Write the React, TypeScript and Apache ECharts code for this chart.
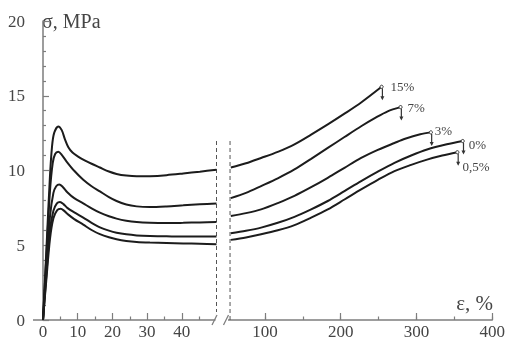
import React, { useEffect, useRef } from "react";
import * as echarts from "echarts";

// Curve labels (pre-strain), top to bottom
const curveLabels = ["15%", "7%", "3%", "0%", "0,5%"];

// Left part of the broken axis: ε 0..50 %, σ in MPa
const leftA = [[0, 0], [1, 4.8], [2, 9.6], [2.6, 11.6], [3.2, 12.5], [4.4, 12.95], [5.4, 12.7], [6.3, 12.1], [7.3, 11.55], [8.5, 11.2], [10, 10.95], [12, 10.68], [14, 10.45], [16.4, 10.2], [19, 9.93], [21.2, 9.77], [24, 9.66], [27, 9.61], [30.8, 9.62], [35.6, 9.69], [40.4, 9.8], [45.2, 9.92], [50, 10.05]];
const leftB = [[0, 0], [1, 4.4], [2, 8.6], [2.8, 10.5], [3.5, 11.1], [4.4, 11.25], [5.4, 11.05], [6.8, 10.6], [9, 9.98], [11.6, 9.38], [14, 8.95], [16.4, 8.6], [19, 8.22], [21.2, 7.96], [24, 7.72], [27, 7.6], [30.8, 7.56], [35.6, 7.6], [40.4, 7.67], [45.2, 7.74], [50, 7.8]];
const leftC = [[0, 0], [1, 3.6], [2, 6.9], [3, 8.5], [3.8, 8.95], [4.7, 9.07], [5.7, 8.9], [7, 8.55], [9, 8.15], [11.6, 7.8], [14, 7.47], [16.4, 7.18], [19, 6.94], [21.2, 6.78], [24, 6.64], [27, 6.55], [30.8, 6.5], [35.6, 6.48], [40.4, 6.5], [45.2, 6.53], [50, 6.56]];
const leftD = [[0, 0], [1, 3.1], [2, 6.0], [3, 7.3], [4, 7.8], [4.9, 7.89], [5.9, 7.75], [7, 7.5], [9, 7.2], [11.6, 6.85], [14, 6.5], [16.4, 6.2], [19, 5.98], [21.2, 5.84], [24, 5.73], [27, 5.66], [30.8, 5.62], [35.6, 5.6], [40.4, 5.58], [50, 5.58]];
const leftE = [[0, 0], [1, 2.8], [2, 5.4], [3, 6.8], [4.1, 7.35], [5.1, 7.44], [6.1, 7.3], [7.3, 7.05], [9, 6.75], [11.6, 6.38], [14, 6.02], [16.4, 5.74], [19, 5.53], [21.2, 5.4], [24, 5.29], [27, 5.22], [30.8, 5.18], [35.6, 5.15], [40.4, 5.12], [45.2, 5.1], [50, 5.07]];

// Right part of the broken axis: ε 50..400 %
const rightA = [[55, 10.2], [75, 10.48], [95, 10.84], [117, 11.25], [139, 11.75], [161, 12.4], [183, 13.08], [205, 13.8], [227, 14.55], [254, 15.6]];
const rightB = [[55, 8.15], [75, 8.5], [95, 8.96], [117, 9.48], [139, 10.07], [161, 10.78], [183, 11.51], [205, 12.24], [227, 12.96], [245, 13.5], [262, 13.96], [279, 14.24]];
const rightC = [[55, 6.96], [75, 7.15], [95, 7.4], [117, 7.82], [139, 8.3], [161, 8.88], [183, 9.51], [205, 10.18], [227, 10.84], [249, 11.38], [271, 11.84], [285, 12.12], [305, 12.42], [319, 12.55]];
const rightD = [[55, 5.8], [75, 5.97], [95, 6.18], [117, 6.5], [139, 6.9], [161, 7.4], [183, 7.96], [205, 8.62], [227, 9.29], [249, 9.92], [271, 10.51], [293, 11.0], [314, 11.4], [340, 11.75], [361, 11.97]];
const rightE = [[55, 5.36], [75, 5.52], [95, 5.73], [117, 6.0], [139, 6.35], [161, 6.85], [183, 7.4], [205, 8.06], [227, 8.73], [249, 9.37], [271, 9.96], [293, 10.38], [314, 10.73], [334, 11.0], [354, 11.22]];

const leftCurves = [leftA, leftB, leftC, leftD, leftE];
const rightCurves = [rightA, rightB, rightC, rightD, rightE];

const xTicksLeft = [0, 10, 20, 30, 40];
const xTicksRight = [100, 200, 300, 400];
const yTicks = [0, 5, 10, 15, 20];

// Axis break guide lines (ε on each side, σ top)
const breakLeft = [[50, 0], [50, 12]];
const breakRight = [[54, 0], [54, 12]];

// label offsets for end markers (style)
const labelOffsets = [[9, 0], [7, 0], [4, -2], [6, 3], [5, 14]];

const FONT = '"Liberation Serif", "DejaVu Serif", serif';
const AXIS = "#7d7d7d";
const TEXT = "#454545";
const LINE = "#1c1c1c";

export default function App() {
  const ref = useRef<HTMLDivElement>(null);
  useEffect(() => {
    document.body.style.margin = "0";
    const chart = echarts.init(ref.current!, undefined, { renderer: "svg" });
    const axisLine = { show: true, lineStyle: { color: AXIS, width: 1.5 } };
    const tickStyle = { color: AXIS, width: 1.2 };
    const labelStyle = { color: TEXT, fontFamily: FONT, fontSize: 17 };

    const series: any[] = [];
    leftCurves.forEach((c, i) => {
      series.push({
        type: "line", xAxisIndex: 0, yAxisIndex: 0, data: c, showSymbol: false, symbol: "none",
        smooth: 0.3, lineStyle: { color: LINE, width: 2 }, z: 3, name: "L" + i,
      });
    });
    rightCurves.forEach((c, i) => {
      series.push({
        type: "line", xAxisIndex: 1, yAxisIndex: 1, data: c, showSymbol: false, symbol: "none",
        smooth: 0.3, lineStyle: { color: LINE, width: 2 }, z: 3, name: "R" + i,
      });
    });
    series.push({
      type: "line", xAxisIndex: 0, yAxisIndex: 0, data: breakLeft, symbol: "none",
      lineStyle: { color: "#555", width: 1, type: [4, 3] }, z: 2,
    });
    series.push({
      type: "line", xAxisIndex: 1, yAxisIndex: 1, data: breakRight, symbol: "none",
      lineStyle: { color: "#555", width: 1, type: [4, 3] }, z: 2,
    });
    series.push({
      type: "custom", xAxisIndex: 1, yAxisIndex: 1, clip: false, z: 4,
      data: rightCurves.map((c) => c[c.length - 1]),
      renderItem: (params: any, api: any) => {
        const p = api.coord([api.value(0), api.value(1)]);
        const i = params.dataIndex;
        const [dx, dy] = labelOffsets[i];
        const x = p[0], y = p[1];
        return {
          type: "group",
          children: [
            { type: "circle", shape: { cx: x, cy: y, r: 1.6 }, style: { fill: "#fff", stroke: "#333", lineWidth: 1 } },
            { type: "line", shape: { x1: x + 0.8, y1: y + 1.6, x2: x + 0.8, y2: y + 12 }, style: { stroke: "#333", lineWidth: 1.2 } },
            { type: "polygon", shape: { points: [[x - 1.2, y + 9.5], [x + 2.8, y + 9.5], [x + 0.8, y + 13.5]] }, style: { fill: "#333" } },
            { type: "text", style: { text: curveLabels[i], x: x + dx, y: y + dy, fill: TEXT, font: `13px ${FONT}`, align: "left", verticalAlign: "middle" } },
          ],
        };
      },
    });

    chart.setOption({
      animation: false,
      grid: [
        { left: 43, top: 21, width: 173.5, height: 300 },
        { left: 227, top: 21, width: 266, height: 300 },
      ],
      xAxis: [
        {
          gridIndex: 0, type: "value", min: 0, max: 50, interval: 10, position: "bottom",
          axisLine, axisTick: { inside: true, length: 7, lineStyle: tickStyle },
          minorTick: { show: true, splitNumber: 2, length: 3.5, lineStyle: tickStyle },
          splitLine: { show: false },
          axisLabel: { ...labelStyle, margin: 3, formatter: (v: number) => (xTicksLeft.includes(v) ? String(v) : "") },
        },
        {
          gridIndex: 1, type: "value", min: 50, max: 400, interval: 50, position: "bottom",
          axisLine, axisTick: { inside: true, length: 3.5, lineStyle: tickStyle },
          splitLine: { show: false },
          axisLabel: { ...labelStyle, margin: 3, formatter: (v: number) => (xTicksRight.includes(v) ? String(v) : "") },
        },
        {
          gridIndex: 1, type: "value", min: 50, max: 400, interval: 50, position: "bottom",
          axisLine: { show: false },
          axisTick: { inside: true, length: 7, lineStyle: tickStyle, customValues: xTicksRight },
          splitLine: { show: false }, axisLabel: { show: false },
        },
      ],
      yAxis: [
        {
          gridIndex: 0, type: "value", min: 0, max: 20, interval: 5, offset: 10,
          axisLine, axisTick: { inside: true, length: 6, lineStyle: tickStyle },
          minorTick: { show: true, splitNumber: 5, length: 3, lineStyle: tickStyle },
          splitLine: { show: false },
          axisLabel: { ...labelStyle, margin: 8, formatter: (v: number) => (yTicks.includes(v) ? String(v) : "") },
        },
        { gridIndex: 1, type: "value", min: 0, max: 20, show: false },
      ],
      series,
    });

    const p0 = chart.convertToPixel({ gridIndex: 0 }, [0, 0]) as number[];
    const p50a = chart.convertToPixel({ gridIndex: 0 }, [50, 0]) as number[];
    const p50b = chart.convertToPixel({ gridIndex: 1 }, [50, 0]) as number[];
    const slash = (cx: number, cy: number) => ({
      type: "line", shape: { x1: cx - 2.5, y1: cy + 5, x2: cx + 2.5, y2: cy - 5 },
      style: { stroke: AXIS, lineWidth: 1.3 },
    });
    chart.setOption({
      graphic: [
        { type: "line", shape: { x1: p0[0] - 10, y1: p0[1], x2: p0[0], y2: p0[1] }, style: { stroke: AXIS, lineWidth: 1.5 } },
        { type: "rect", shape: { x: p50a[0] - 1, y: p50a[1] - 8, width: p50b[0] - p50a[0] + 2, height: 10 }, style: { fill: "#fff" }, z: 10 },
        { ...slash(p50a[0] - 2, p50a[1]), z: 11 },
        { ...slash(p50b[0] - 1, p50b[1]), z: 11 },
        { type: "text", x: 42, y: 21, style: { text: "σ, MPa", font: `20px ${FONT}`, fill: TEXT, verticalAlign: "middle" } },
        { type: "text", x: 493, y: 303, style: { text: "ε, %", font: `21px ${FONT}`, fill: TEXT, align: "right", verticalAlign: "middle" } },
      ],
    });
    return () => chart.dispose();
  }, []);
  return <div ref={ref} style={{ position: "fixed", left: 0, top: 0, width: 508, height: 340 }} />;
}
